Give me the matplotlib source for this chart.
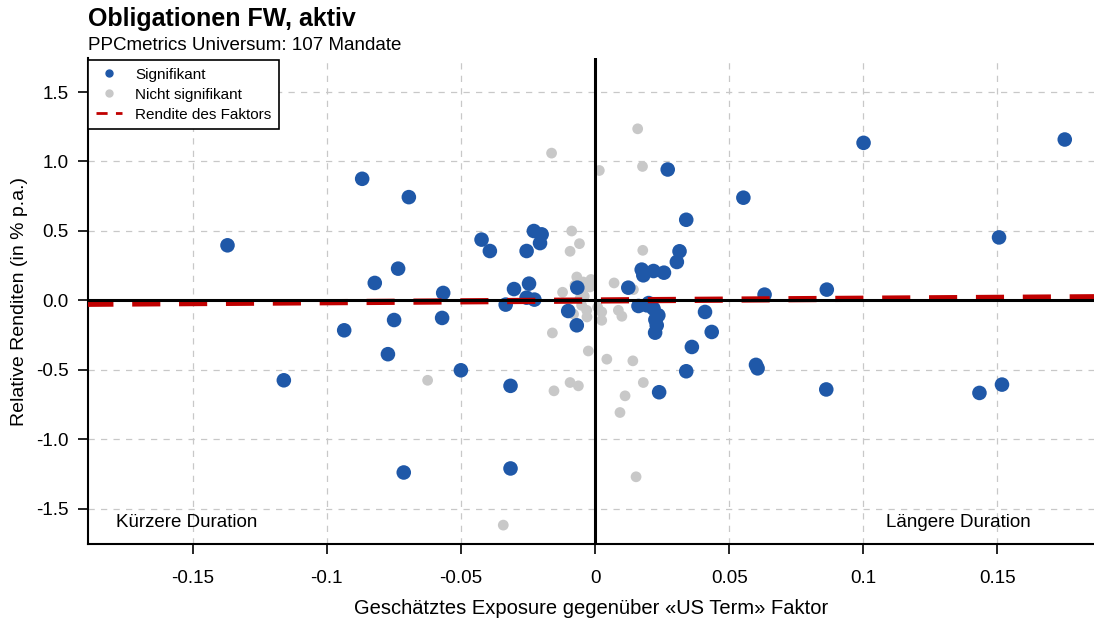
import numpy as np
import matplotlib.pyplot as plt
from matplotlib.lines import Line2D

plt.rcParams['font.family'] = ['Liberation Sans', 'DejaVu Sans']

# significant mandates (exposure, relative return)
sig_x = [-0.137, -0.116, -0.0868, -0.0694, -0.0734, -0.0821, -0.0566, -0.0570, -0.0749, -0.0935,
         -0.0772, -0.050, -0.0713, -0.0423, -0.0392, -0.0228, -0.0199, -0.0205, -0.0255, -0.0302,
         -0.0246, -0.0255, -0.0226, -0.0333, -0.0066, -0.010, -0.0068, -0.0315, -0.0315, 0.034,
         0.0315, 0.0305, 0.0174, 0.018, 0.0218, 0.0257, 0.0124, 0.0162, 0.0193, 0.0218,
         0.0236, 0.023, 0.0224, 0.041, 0.0435, 0.0361, 0.034, 0.0239, 0.0271, 0.0553,
         0.1001, 0.1751, 0.1506, 0.0632, 0.0864, 0.0600, 0.0606, 0.0862, 0.1433, 0.1517,
         0.020, 0.0225]
sig_y = [0.396, -0.576, 0.875, 0.743, 0.228, 0.125, 0.053, -0.127, -0.142, -0.216,
         -0.388, -0.504, -1.240, 0.437, 0.355, 0.499, 0.475, 0.412, 0.355, 0.081,
         0.120, 0.019, 0.005, -0.031, 0.091, -0.077, -0.180, -0.616, -1.211, 0.580,
         0.353, 0.276, 0.221, 0.180, 0.211, 0.199, 0.091, -0.041, -0.036, -0.060,
         -0.108, -0.180, -0.233, -0.084, -0.228, -0.336, -0.511, -0.662, 0.942, 0.739,
         1.134, 1.158, 0.453, 0.041, 0.077, -0.465, -0.490, -0.642, -0.667, -0.607,
         -0.020, -0.140]

# not significant mandates
ns_x = [-0.0087, -0.0058, -0.0093, -0.0121, -0.0068, -0.0044, -0.0031, -0.0075, -0.0056, -0.005,
        -0.0031, -0.003, 0.0025, 0.0025, 0.0087, 0.010, -0.0062, -0.0159, 0.0178, 0.0071,
        0.0143, -0.0019, 0.0044, 0.0141, 0.018, 0.0112, 0.0093, 0.0153, -0.0025, -0.0342,
        -0.0153, -0.0093, -0.0062, -0.0162, 0.0016, 0.0159, 0.0177, -0.0624, -0.0040, 0.0010,
        -0.0015, -0.0080]
ns_y = [0.499, 0.408, 0.353, 0.058, 0.168, 0.132, 0.096, 0.108, 0.012, -0.036,
        -0.072, -0.120, -0.084, -0.144, -0.072, -0.115, -0.187, -0.235, 0.360, 0.125,
        0.077, 0.096, -0.424, -0.436, -0.592, -0.688, -0.808, -1.271, -0.365, -1.619,
        -0.652, -0.592, -0.616, 1.060, 0.935, 1.235, 0.964, -0.576, 0.030, -0.050,
        0.150, -0.100]

# factor return line
factor_x = [-0.19, 0.186]
factor_y = [-0.025, 0.022]

xticks = [-0.15, -0.1, -0.05, 0, 0.05, 0.1, 0.15]
xticklabels = ['-0.15', '-0.1', '-0.05', '0', '0.05', '0.1', '0.15']
yticks = [-1.5, -1.0, -0.5, 0.0, 0.5, 1.0, 1.5]
yticklabels = ['-1.5', '-1.0', '-0.5', '0.0', '0.5', '1.0', '1.5']

blue = '#1f58a8'
grey = '#c8c8c8'
red = '#c00000'

fig = plt.figure(figsize=(10.94, 6.21), dpi=100)
ax = fig.add_axes([88/1094, 77/621, 1006/1094, 486/621])

ax.set_xlim(-0.189, 0.186)
ax.set_ylim(-1.755, 1.745)

for t in xticks:
    ax.axvline(t, color='#c8c8c8', lw=0.9, ls=(0, (5, 5)), zorder=1)
for t in yticks:
    ax.axhline(t, color='#c8c8c8', lw=0.9, ls=(0, (5, 5)), zorder=1)

ax.scatter(ns_x, ns_y, s=60, color=grey, edgecolors='none', zorder=3)
ax.scatter(sig_x, sig_y, s=110, color=blue, edgecolors='none', zorder=3.2)
ax.plot(factor_x, factor_y, color=red, lw=4.5, dashes=(4.5, 3.0), zorder=3.5)

ax.axhline(0, color='black', lw=2.2, zorder=4)
ax.axvline(0, color='black', lw=2.2, zorder=4)

ax.set_xticks(xticks)
ax.set_xticklabels(xticklabels)
ax.set_yticks(yticks)
ax.set_yticklabels(yticklabels)
ax.tick_params(direction='out', length=7, width=1.2, labelsize=13.5)
ax.tick_params(axis='x', pad=12)
ax.tick_params(axis='y', pad=7)

for s in ['top', 'right']:
    ax.spines[s].set_visible(False)
for s in ['left', 'bottom']:
    ax.spines[s].set_linewidth(1.5)

ax.set_xlabel('Geschätztes Exposure gegenüber «US Term» Faktor', fontsize=14.5, labelpad=8)
ax.set_ylabel('Relative Renditen (in % p.a.)', fontsize=14, labelpad=6)

ax.text(-0.1785, -1.6, 'Kürzere Duration', fontsize=13.5, va='center', ha='left')
ax.text(0.1625, -1.6, 'Längere Duration', fontsize=13.5, va='center', ha='right')

handles = [
    Line2D([], [], marker='o', ls='none', color=blue, markersize=5),
    Line2D([], [], marker='o', ls='none', color=grey, markersize=5),
    Line2D([], [], color=red, lw=2, dashes=(4, 3)),
]
leg = ax.legend(handles, ['Signifikant', 'Nicht signifikant', 'Rendite des Faktors'],
                loc='upper left', bbox_to_anchor=(0, 0.996), fontsize=11, frameon=True,
                fancybox=False, edgecolor='black', framealpha=1, borderaxespad=0,
                handlelength=1.7, handletextpad=0.9, labelspacing=0.4, borderpad=0.5)
leg.get_frame().set_linewidth(1.2)
leg.set_zorder(10)

fig.text(88/1094, 1 - 19/621, 'Obligationen FW, aktiv', fontsize=18, fontweight='bold',
         va='center', ha='left')
fig.text(88/1094, 1 - 45/621, 'PPCmetrics Universum: 107 Mandate', fontsize=13.5,
         va='center', ha='left')

fig.savefig('out.png', dpi=100)
